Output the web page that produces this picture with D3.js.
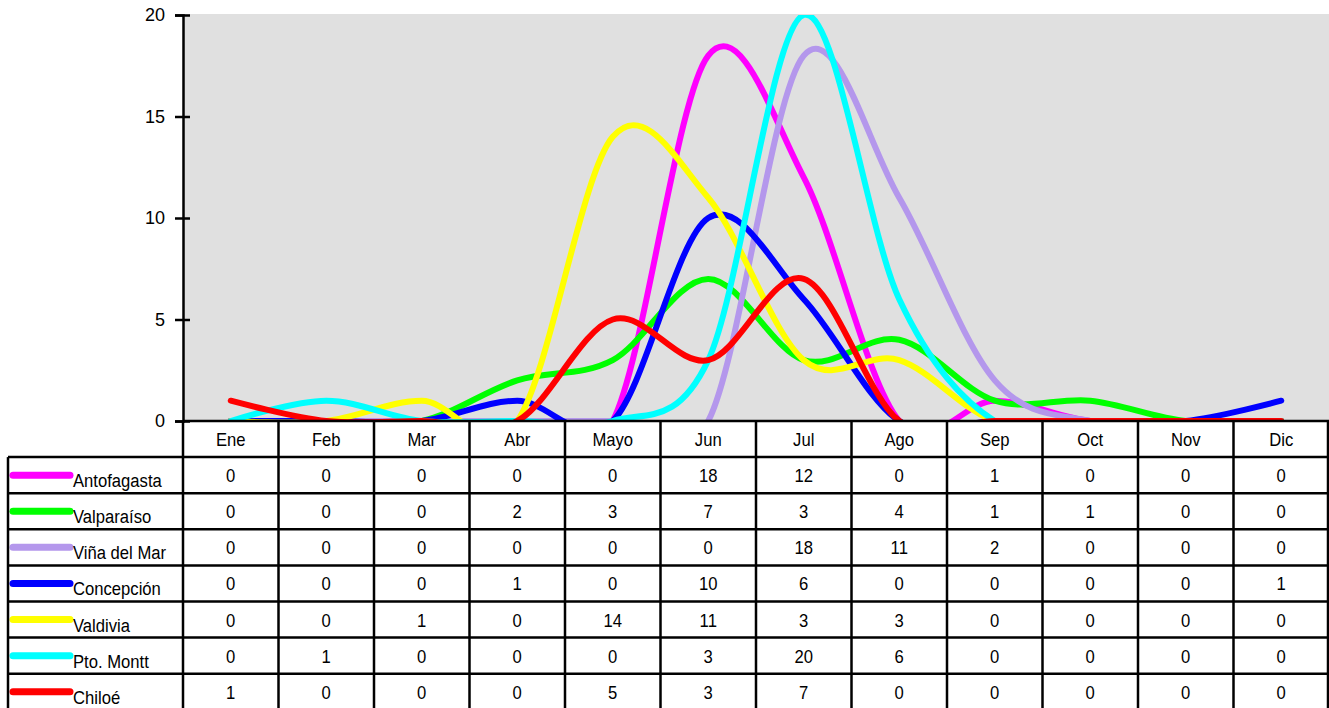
<!DOCTYPE html>
<html>
<head>
<meta charset="utf-8">
<script src="https://cdn.jsdelivr.net/npm/d3@7"></script>
<style>
  body { margin: 0; background: #fff; }
  svg { display: block; }
</style>
</head>
<body>
<script>
// chart size
var w = 1329;
var h = 708;

// data
var months = ["Ene", "Feb", "Mar", "Abr", "Mayo", "Jun", "Jul", "Ago", "Sep", "Oct", "Nov", "Dic"];
var cities = ["Antofagasta", "Valparaíso", "Viña del Mar", "Concepción", "Valdivia", "Pto. Montt", "Chiloé"];
var colors = ["#ff00ff", "#00ff00", "#b497ec", "#0000ff", "#ffff00", "#00ffff", "#ff0000"];

var antofagasta = [0, 0, 0, 0, 0, 18, 12, 0, 1, 0, 0, 0];
var valparaiso  = [0, 0, 0, 2, 3, 7, 3, 4, 1, 1, 0, 0];
var vinaDelMar  = [0, 0, 0, 0, 0, 0, 18, 11, 2, 0, 0, 0];
var concepcion  = [0, 0, 0, 1, 0, 10, 6, 0, 0, 0, 0, 1];
var valdivia    = [0, 0, 1, 0, 14, 11, 3, 3, 0, 0, 0, 0];
var ptoMontt    = [0, 1, 0, 0, 0, 3, 20, 6, 0, 0, 0, 0];
var chiloe      = [1, 0, 0, 0, 5, 3, 7, 0, 0, 0, 0, 0];

var yTicks = [0, 5, 10, 15, 20];

var series = [antofagasta, valparaiso, vinaDelMar, concepcion, valdivia, ptoMontt, chiloe];

// layout
var plotLeft = 183;
var plotRight = 1329;
var plotTop = 15;
var plotBottom = 421;
var rowH = 36.1;
var tableLeft = 8;
var tableFont = "'Liberation Sans', Arial, sans-serif";
var squeeze = 0.9; // the table text is a condensed face

var xScale = d3.scaleBand()
  .domain(months)
  .range([plotLeft, plotRight]);

var yScale = d3.scaleLinear()
  .domain([0, 20])
  .range([plotBottom, plotTop]);

var svg = d3.select("body")
  .append("svg")
  .attr("width", w)
  .attr("height", h);

// plot background
svg.append("rect")
  .attr("x", plotLeft)
  .attr("y", plotTop - 1)
  .attr("width", plotRight - plotLeft)
  .attr("height", plotBottom - plotTop + 1)
  .attr("fill", "#e0e0e0");

svg.append("clipPath")
  .attr("id", "plotclip")
  .append("rect")
  .attr("x", plotLeft)
  .attr("y", plotTop)
  .attr("width", plotRight - plotLeft)
  .attr("height", plotBottom - plotTop);

var line = d3.line()
  .x(function(d, i) { return xScale(months[i]) + xScale.bandwidth() / 2; })
  .y(function(d) { return yScale(d); })
  .curve(d3.curveCardinal.tension(0));

svg.append("g")
  .attr("clip-path", "url(#plotclip)")
  .selectAll("path")
  .data(series)
  .enter()
  .append("path")
  .attr("d", line)
  .attr("fill", "none")
  .attr("stroke", function(d, i) { return colors[i]; })
  .attr("stroke-width", 6)
  .attr("stroke-linecap", "round")
  .attr("stroke-linejoin", "round");

// y axis
var yAxis = svg.append("g")
  .attr("transform", "translate(" + plotLeft + ",0)")
  .call(d3.axisLeft(yScale).tickValues(yTicks).tickSize(8).tickPadding(10));

yAxis.select(".domain")
  .attr("stroke", "#000")
  .attr("stroke-width", 2.5);

yAxis.selectAll(".tick line")
  .attr("x1", -8)
  .attr("x2", 7)
  .attr("stroke", "#000")
  .attr("stroke-width", 2.5);

yAxis.selectAll(".tick text")
  .attr("font-family", "'Liberation Sans', Arial, sans-serif")
  .attr("font-size", "18px")
  .attr("fill", "#000");

// data table
var table = svg.append("g");
var tableBottom = plotBottom + rowH * (cities.length + 1);

function place(x, y) {
  return "translate(" + x + "," + y + ") scale(" + squeeze + ",1)";
}

// month header
table.selectAll("text.month")
  .data(months)
  .enter()
  .append("text")
  .attr("class", "month")
  .attr("transform", function(d) {
    return place(xScale(d) + xScale.bandwidth() / 2, plotBottom + rowH / 2 + 7);
  })
  .attr("text-anchor", "middle")
  .attr("font-family", tableFont)
  .attr("font-size", "18.5px")
  .text(function(d) { return d; });

// rows
var rows = table.selectAll("g.row")
  .data(series)
  .enter()
  .append("g")
  .attr("class", "row")
  .attr("transform", function(d, i) {
    return "translate(0," + (plotBottom + rowH * (i + 1)) + ")";
  });

rows.append("line")
  .attr("x1", 13)
  .attr("x2", 70)
  .attr("y1", rowH / 2)
  .attr("y2", rowH / 2)
  .attr("stroke", function(d, i) { return colors[i]; })
  .attr("stroke-width", 7)
  .attr("stroke-linecap", "round");

rows.append("text")
  .attr("transform", place(73, rowH / 2 + 12))
  .attr("font-family", tableFont)
  .attr("font-size", "18.5px")
  .text(function(d, i) { return cities[i]; });

rows.selectAll("text.val")
  .data(function(d) { return d; })
  .enter()
  .append("text")
  .attr("class", "val")
  .attr("transform", function(d, i) {
    return place(xScale(months[i]) + xScale.bandwidth() / 2, rowH / 2 + 7);
  })
  .attr("text-anchor", "middle")
  .attr("font-family", tableFont)
  .attr("font-size", "18.5px")
  .text(function(d) { return d; });

// grid lines of the table
var hLines = d3.range(cities.length + 1).map(function(i) { return plotBottom + rowH * (i + 1); });

table.selectAll("line.h")
  .data(hLines)
  .enter()
  .append("line")
  .attr("x1", tableLeft)
  .attr("x2", plotRight)
  .attr("y1", function(d) { return d; })
  .attr("y2", function(d) { return d; })
  .attr("stroke", "#000")
  .attr("stroke-width", 2.5);

table.append("line")
  .attr("x1", plotLeft)
  .attr("x2", plotRight)
  .attr("y1", plotBottom)
  .attr("y2", plotBottom)
  .attr("stroke", "#000")
  .attr("stroke-width", 2.5);

var vLines = months.map(function(m) { return xScale(m); }).concat([plotRight - 1]);

table.selectAll("line.v")
  .data(vLines)
  .enter()
  .append("line")
  .attr("x1", function(d) { return d; })
  .attr("x2", function(d) { return d; })
  .attr("y1", plotBottom)
  .attr("y2", tableBottom)
  .attr("stroke", "#000")
  .attr("stroke-width", 2.5);

table.append("line")
  .attr("x1", tableLeft)
  .attr("x2", tableLeft)
  .attr("y1", plotBottom + rowH)
  .attr("y2", tableBottom)
  .attr("stroke", "#000")
  .attr("stroke-width", 2.5);
</script>
</body>
</html>
